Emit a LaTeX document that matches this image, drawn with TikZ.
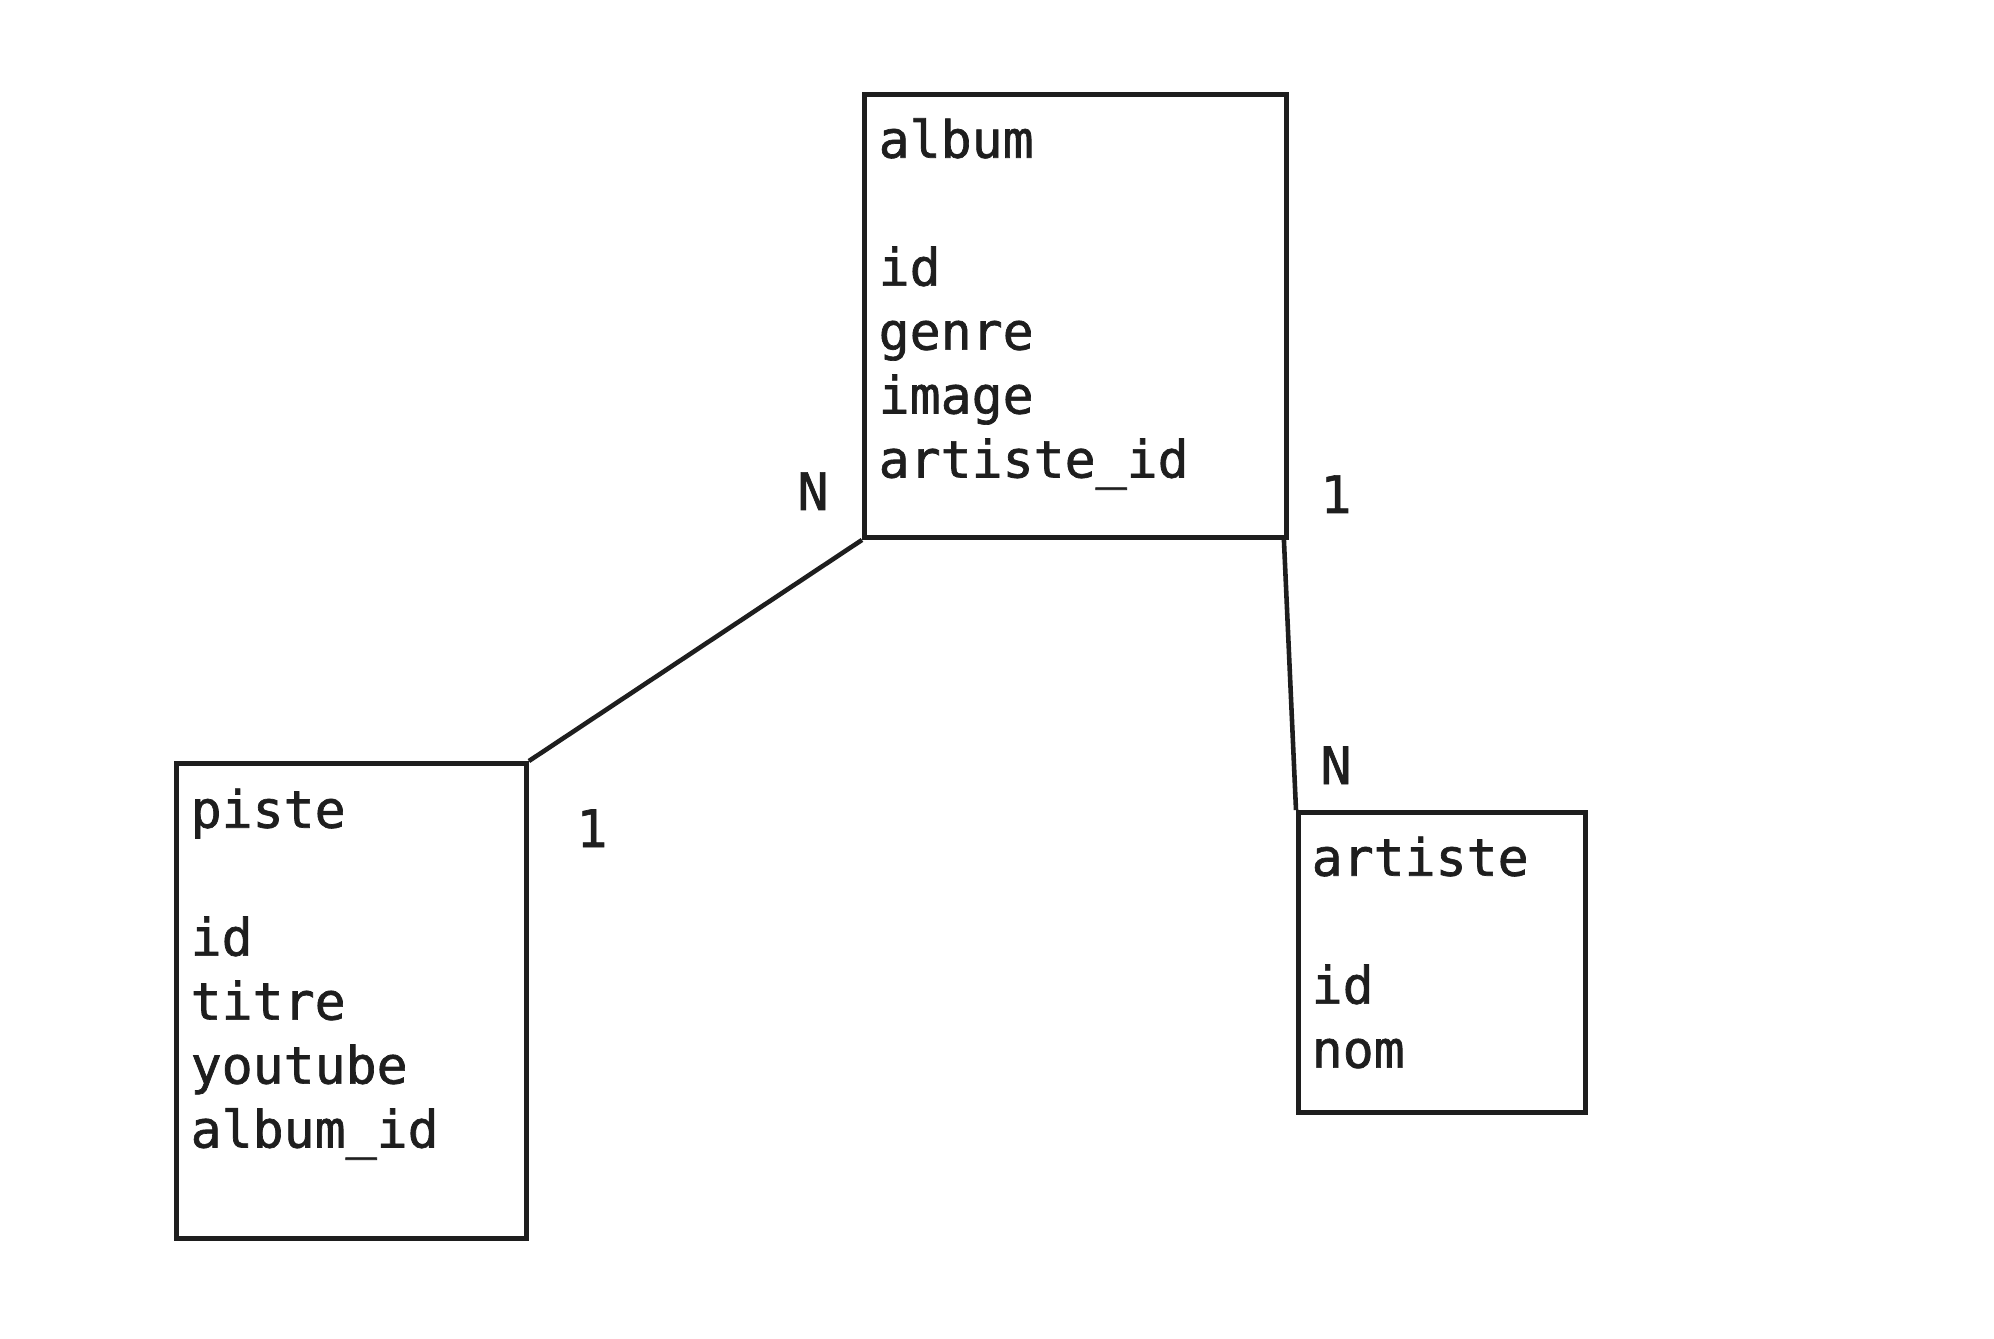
\documentclass[tikz,border=0pt]{standalone}
\usepackage{fontspec}
\newfontfamily\mcdfont[RawFeature={embolden=1.3}]{DejaVu Sans Mono}
\usetikzlibrary{positioning,calc}
\definecolor{mcdencre}{HTML}{1E1E1E}

\begin{document}
\begin{tikzpicture}[
  table/.style={
    draw=mcdencre, line width=1.4pt, rectangle, inner sep=0pt},
  champs/.style={
    anchor=north west, inner sep=0pt, align=left, text=mcdencre,
    font=\mcdfont\fontsize{14.65pt}{18.2pt}\selectfont},
  card/.style={
    anchor=base, inner sep=0pt, text=mcdencre,
    font=\mcdfont\fontsize{14.65pt}{18.2pt}\selectfont},
  lien/.style={mcdencre, line width=1.3pt},
]
  \useasboundingbox[fill=white] (0,0) rectangle (19.94,-13.38);

  %% ---- Tables ----
  \node[table, anchor=north west, minimum width=4.22cm, minimum height=4.43cm]
    (album) at (8.62,-0.92) {};
  \node[table, anchor=north west, minimum width=3.50cm, minimum height=4.75cm]
    (piste) at (1.74,-7.61) {};
  \node[table, anchor=north west, minimum width=2.87cm, minimum height=3.00cm]
    (artiste) at (12.96,-8.10) {};

  %% ---- Champs ----
  \node[champs] (albumtxt) at ([xshift=1.6mm]album.north west)
    {\rule{0pt}{6.5mm}album\\[18.2pt]id\\genre\\image\\artiste\_id};
  \node[champs] (pistetxt) at ([xshift=1.6mm]piste.north west)
    {\rule{0pt}{6.6mm}piste\\[18.2pt]id\\titre\\youtube\\album\_id};
  \node[champs] (artistetxt) at ([xshift=1.5mm]artiste.north west)
    {\rule{0pt}{6.5mm}artiste\\[18.2pt]id\\nom};

  %% ---- Liens ----
  \draw[lien] (piste.north east) -- (album.south west);
  \draw[lien] ([xshift=-0.5mm]album.south east) -- (artiste.north west);

  %% ---- Cardinalites ----
  \node[card] (cardalbumg) at ([shift={(-0.49,0.30)}]album.south west) {N};
  \node[card] (cardalbumd) at ([shift={(0.47,0.27)}]album.south east) {1};
  \node[card] (cardartiste) at ([shift={(0.40,0.26)}]artiste.north west) {N};
  \node[card] (cardpiste) at ([shift={(0.63,-0.86)}]piste.north east) {1};

\end{tikzpicture}
\end{document}
